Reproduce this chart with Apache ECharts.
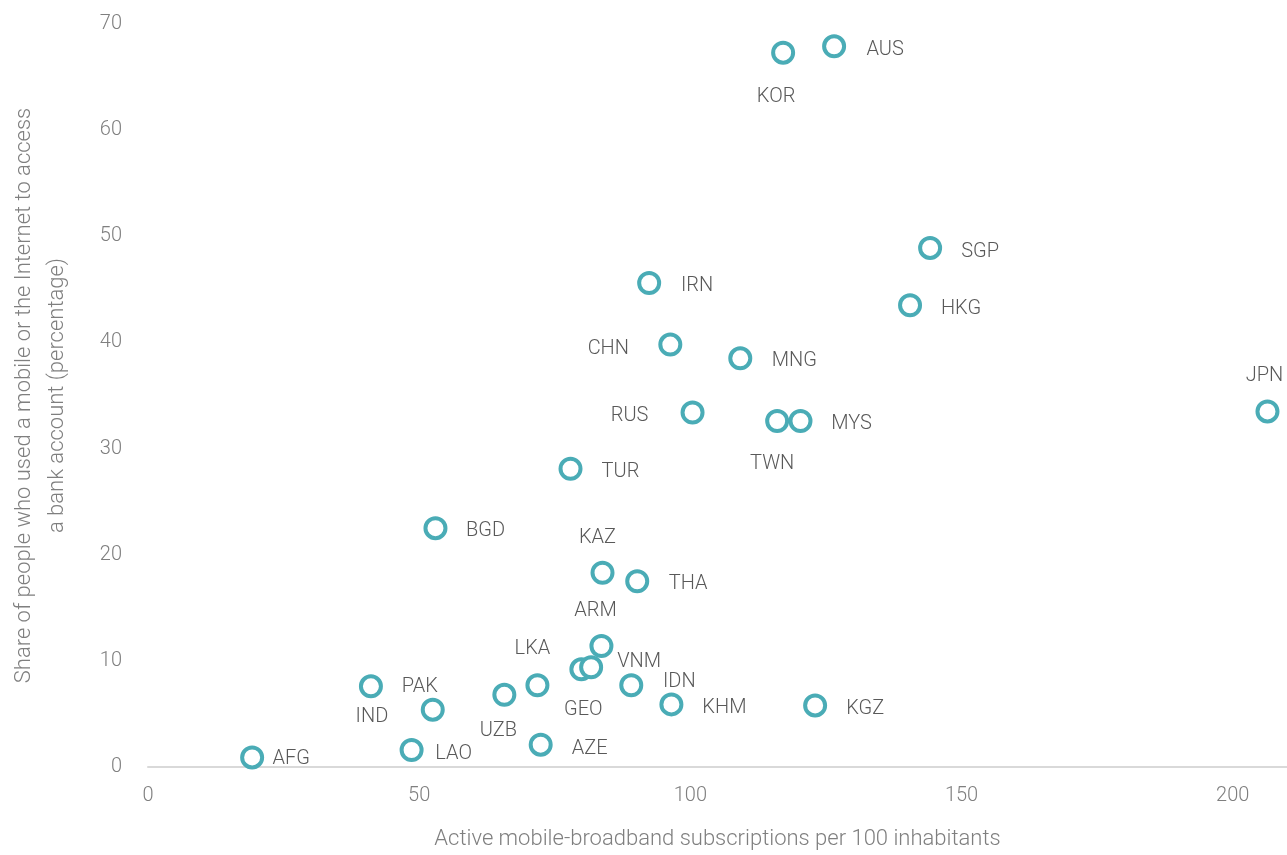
<!DOCTYPE html>
<html>
<head>
<meta charset="utf-8">
<script src="https://cdn.jsdelivr.net/npm/echarts@6/dist/echarts.min.js"></script>
<style>html,body{margin:0;padding:0;background:#fff;}#c{width:1287px;height:855px;}</style>
</head>
<body>
<div id="c"></div>
<script>
const countries = ['AFG','LAO','IND','PAK','BGD','UZB','LKA','AZE','GEO','VNM','ARM','KAZ','THA','TUR','IDN','KHM','KGZ','RUS','CHN','IRN','MNG','TWN','MYS','KOR','AUS','SGP','HKG','JPN'];
const mobileBroadband = [19.2,48.6,41.1,52.5,53.0,65.7,71.8,72.4,79.9,81.7,83.6,83.8,90.2,77.9,89.1,96.5,123.0,100.4,96.3,92.4,109.2,116.0,120.3,117.1,126.5,144.2,140.5,206.4];
const bankAccessShare = [0.9,1.6,7.6,5.4,22.5,6.8,7.7,2.1,9.2,9.4,11.4,18.3,17.5,28.1,7.7,5.9,5.8,33.4,39.8,45.6,38.5,32.6,32.6,67.3,67.9,48.9,43.5,33.5];
const xTicks = [0,50,100,150,200];
const yTicks = [0,10,20,30,40,50,60,70];

// label placement (pixel offsets from point centre)
const labelOffsets = {
  AFG:[39,2], LAO:[42,4], IND:[1,31], PAK:[-13,-23], BGD:[50,3], UZB:[-6,36],
  LKA:[-5,-36], AZE:[49,4], GEO:[2,41], VNM:[48,-5], ARM:[-6,-35], KAZ:[-5,-35],
  THA:[51,3], TUR:[50,3], IDN:[48,-3], KHM:[53,4], KGZ:[50,4], RUS:[-63,4],
  CHN:[-62,4], IRN:[48,3], MNG:[54,3], TWN:[-5,43], MYS:[51,3], KOR:[-7,44],
  AUS:[51,4], SGP:[50,4], HKG:[51,4], JPN:[-3,-35]
};

const pts = countries.map((c, i) => ({
  name: c,
  value: [mobileBroadband[i], bankAccessShare[i]],
  label: { offset: labelOffsets[c] }
}));

const FONT = 'Roboto';
const chart = echarts.init(document.getElementById('c'), null, {renderer: 'canvas'});
chart.setOption({
  animation: false,
  backgroundColor: '#ffffff',
  grid: { left: 147, right: 0, top: 24, bottom: 86, containLabel: false },
  xAxis: {
    type: 'value', min: 0, max: 210, interval: 50,
    name: 'Active mobile-broadband subscriptions per 100 inhabitants',
    nameLocation: 'middle', nameGap: 61,
    nameTextStyle: { color: '#7f7f7f', fontSize: 22, fontFamily: FONT, fontWeight: 300 },
    axisLine: { show: true, lineStyle: { color: '#d9d9d9', width: 2 } },
    axisTick: { show: false },
    splitLine: { show: false },
    axisLabel: { color: '#7f7f7f', fontSize: 20, fontFamily: FONT, fontWeight: 300, margin: 19,
      showMaxLabel: false,
      formatter: v => xTicks.includes(v) ? String(v) : '' }
  },
  yAxis: {
    type: 'value', min: 0, max: 70, interval: 10,
    name: 'Share of people who used a mobile or the Internet to access\na bank account (percentage)',
    nameLocation: 'middle', nameGap: 74, nameRotate: 90,
    nameTextStyle: { color: '#7f7f7f', fontSize: 22, fontFamily: FONT, fontWeight: 300, lineHeight: 33, align: 'center' },
    axisLine: { show: false },
    axisTick: { show: false },
    splitLine: { show: false },
    axisLabel: { color: '#7f7f7f', fontSize: 20, fontFamily: FONT, fontWeight: 300, margin: 26,
      formatter: v => yTicks.includes(v) ? String(v) : '' }
  },
  series: [{
    type: 'scatter',
    symbol: 'circle',
    symbolSize: 20,
    itemStyle: { color: '#ffffff', borderColor: '#4aacb6', borderWidth: 4, opacity: 1 },
    label: {
      show: true, position: 'inside', formatter: '{b}',
      color: '#595959', fontSize: 20, fontFamily: FONT, fontWeight: 300
    },
    emphasis: { disabled: true },
    data: pts
  }]
});
</script>
</body>
</html>
